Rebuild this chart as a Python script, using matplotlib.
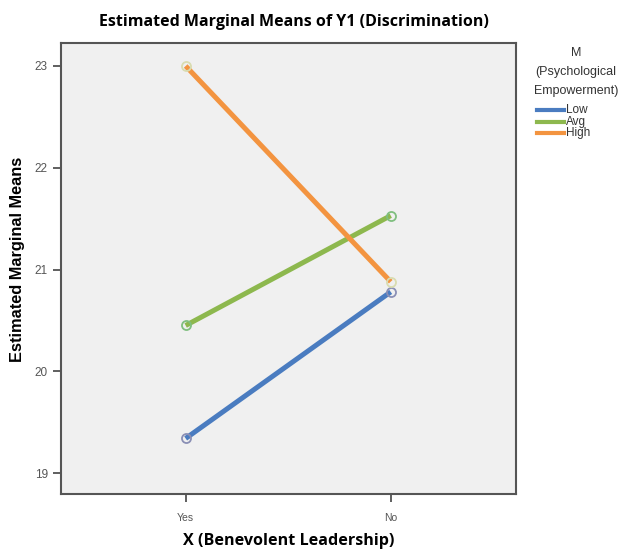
import matplotlib.pyplot as plt
from matplotlib.lines import Line2D

# data
x_labels = ["Yes", "No"]
low = [19.34, 20.78]
avg = [20.45, 21.53]
high = [23.00, 20.88]
group_names = ["Low", "Avg", "High"]

line_colors = ["#4a7cc0", "#8db84e", "#f39440"]
marker_colors = ["#8a8fb5", "#7fbf7f", "#d9dcb0"]

fig = plt.figure(figsize=(6.22, 5.5), dpi=100)
ax = fig.add_axes([61 / 622, 1 - 494 / 550, (516 - 61) / 622, (494 - 43) / 550])
ax.set_facecolor("#f0f0f0")

xs = range(len(x_labels))
for vals, lc, mc in zip([low, avg, high], line_colors, marker_colors):
    ax.plot(xs, vals, color=lc, lw=3.6, solid_capstyle="butt", zorder=2)
    ax.plot(xs, vals, ls="none", marker="o", ms=6.5, mfc="none", mec=mc, mew=1.3, zorder=3)

ax.set_xlim(-0.608, 1.611)
ax.set_ylim(18.794, 23.226)
ax.set_xticks(list(xs))
ax.set_xticklabels(x_labels)
ax.set_yticks([19, 20, 21, 22, 23])
ax.tick_params(labelsize=8.5, labelcolor="#555555", color="#444444", length=6, width=1.2)
ax.tick_params(axis="x", labelsize=7.5, pad=8)
for lbl in ax.get_xticklabels() + ax.get_yticklabels():
    lbl.set_family("Liberation Sans")
for sp in ax.spines.values():
    sp.set_color("#555555")
    sp.set_linewidth(1.5)

ax.set_xlabel("X (Benevolent Leadership)", fontsize=11.6, fontweight="bold",
              family="Open Sans", labelpad=7)
ax.set_ylabel("Estimated Marginal Means", fontsize=11.8, fontweight="bold",
              family="Liberation Sans")
ax.yaxis.set_label_coords(-0.079, 0.52)
fig.text(294 / 622, 1 - 22 / 550, "Estimated Marginal Means of Y1 (Discrimination)",
         ha="center", va="center", fontsize=11.5, fontweight="bold", family="Open Sans")

# legend
fig.text(576 / 622, 1 - 72 / 550, "M\n(Psychological\nEmpowerment)", ha="center", va="center",
         fontsize=9, family="Liberation Sans", color="#333333", linespacing=1.8)
for i, (name, lc) in enumerate(zip(group_names, line_colors)):
    y = 1 - (110 + 11.5 * i) / 550
    fig.add_artist(Line2D([537 / 622, 564 / 622], [y, y], color=lc, lw=3.0,
                          transform=fig.transFigure))
    fig.text(566 / 622, y, name, ha="left", va="center", fontsize=8.5,
             family="Liberation Sans", color="#333333")

fig.savefig("out.png", dpi=100)
